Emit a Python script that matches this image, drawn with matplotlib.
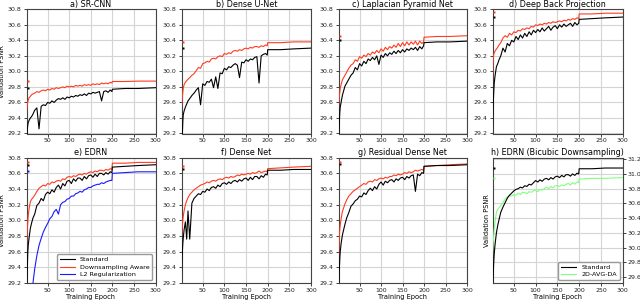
import matplotlib
matplotlib.use("Agg")
import matplotlib.pyplot as plt
import numpy as np

# shared epoch grid at which values were read
epochs = [1, 2, 3, 4, 5, 7, 10, 13, 16, 20,
          25, 30, 35, 40, 45, 50, 55, 60, 65, 70,
          75, 80, 85, 90, 95, 100, 105, 110, 115, 120,
          125, 130, 135, 140, 145, 150, 155, 160, 165, 170,
          175, 180, 185, 190, 195, 199, 200, 230, 260, 300]

a_std = [29.05, 29.18, 29.26, 29.31, 29.34, 29.37, 29.40, 29.42, 29.45, 29.50,
         29.53, 29.26, 29.55, 29.57, 29.56, 29.60, 29.59, 29.62, 29.60, 29.63,
         29.65, 29.64, 29.66, 29.64, 29.67, 29.66, 29.68, 29.67, 29.69, 29.68,
         29.70, 29.69, 29.71, 29.69, 29.72, 29.71, 29.73, 29.72, 29.73, 29.74,
         29.62, 29.74, 29.75, 29.73, 29.76, 29.74, 29.77, 29.78, 29.78, 29.79]
a_da = [29.46, 29.53, 29.58, 29.61, 29.63, 29.66, 29.68, 29.70, 29.71, 29.72,
        29.74, 29.73, 29.75, 29.76, 29.75, 29.77, 29.76, 29.78, 29.77, 29.79,
        29.78, 29.79, 29.80, 29.79, 29.81, 29.80, 29.81, 29.80, 29.82, 29.81,
        29.82, 29.81, 29.83, 29.82, 29.83, 29.82, 29.84, 29.83, 29.84, 29.83,
        29.85, 29.84, 29.85, 29.84, 29.86, 29.85, 29.87, 29.87, 29.875, 29.875]

b_std = [28.90, 29.05, 29.20, 29.35, 29.44, 29.49, 29.54, 29.58, 29.62, 29.65,
         29.69, 29.72, 29.76, 29.79, 29.57, 29.84, 29.82, 29.87, 29.86, 29.90,
         29.79, 29.93, 29.78, 29.98, 29.97, 30.04, 30.02, 30.06, 30.05, 30.08,
         30.10, 30.08, 29.92, 30.12, 30.11, 30.15, 30.13, 30.16, 30.15, 30.18,
         30.19, 29.85, 30.20, 30.22, 30.23, 30.21, 30.28, 30.28, 30.29, 30.30]
b_da = [29.54, 29.60, 29.67, 29.73, 29.78, 29.83, 29.86, 29.88, 29.90, 29.92,
        29.95, 29.97, 30.01, 30.05, 30.04, 30.10, 30.11, 30.13, 30.12, 30.16,
        30.17, 30.16, 30.19, 30.20, 30.19, 30.23, 30.22, 30.24, 30.23, 30.26,
        30.27, 30.26, 30.28, 30.27, 30.29, 30.30, 30.29, 30.31, 30.30, 30.32,
        30.32, 30.31, 30.33, 30.32, 30.34, 30.33, 30.37, 30.37, 30.38, 30.38]

c_std = [28.95, 29.20, 29.35, 29.47, 29.54, 29.60, 29.69, 29.75, 29.81, 29.85,
         29.90, 29.95, 29.98, 30.05, 30.02, 30.10, 30.07, 30.13, 30.10, 30.16,
         30.14, 30.18, 30.15, 30.20, 30.09, 30.21, 30.18, 30.23, 30.20, 30.24,
         30.22, 30.26, 30.23, 30.27, 30.24, 30.28, 30.25, 30.29, 30.27, 30.30,
         30.28, 30.31, 30.27, 30.32, 30.29, 30.33, 30.37, 30.38, 30.38, 30.39]
c_da = [29.55, 29.62, 29.68, 29.73, 29.78, 29.83, 29.89, 29.92, 29.95, 29.99,
        30.04, 30.08, 30.10, 30.15, 30.13, 30.19, 30.17, 30.21, 30.19, 30.23,
        30.21, 30.25, 30.23, 30.27, 30.24, 30.29, 30.26, 30.31, 30.28, 30.32,
        30.30, 30.34, 30.31, 30.36, 30.32, 30.37, 30.33, 30.38, 30.34, 30.38,
        30.35, 30.39, 30.34, 30.39, 30.36, 30.38, 30.44, 30.45, 30.45, 30.46]

d_std = [29.20, 29.45, 29.63, 29.75, 29.85, 29.95, 30.06, 30.10, 30.15, 30.20,
         30.30, 30.25, 30.36, 30.33, 30.40, 30.38, 30.45, 30.41, 30.47, 30.43,
         30.49, 30.45, 30.51, 30.47, 30.53, 30.50, 30.54, 30.51, 30.56, 30.52,
         30.55, 30.58, 30.53, 30.57, 30.59, 30.55, 30.60, 30.57, 30.61, 30.58,
         30.60, 30.62, 30.58, 30.63, 30.60, 30.62, 30.67, 30.68, 30.69, 30.70]
d_da = [29.89, 30.08, 30.19, 30.22, 30.24, 30.26, 30.29, 30.31, 30.34, 30.37,
        30.43, 30.46, 30.44, 30.49, 30.47, 30.51, 30.50, 30.53, 30.52, 30.55,
        30.54, 30.56, 30.55, 30.58, 30.57, 30.60, 30.59, 30.61, 30.60, 30.62,
        30.61, 30.63, 30.62, 30.64, 30.63, 30.64, 30.65, 30.64, 30.66, 30.65,
        30.67, 30.66, 30.68, 30.67, 30.69, 30.68, 30.74, 30.74, 30.75, 30.75]

e_std = [28.90, 29.20, 29.42, 29.59, 29.68, 29.78, 29.90, 29.97, 30.03, 30.08,
         30.19, 30.22, 30.28, 30.25, 30.33, 30.36, 30.34, 30.39, 30.36, 30.42,
         30.45, 30.40, 30.47, 30.44, 30.50, 30.51, 30.47, 30.53, 30.50, 30.54,
         30.54, 30.51, 30.56, 30.53, 30.57, 30.58, 30.55, 30.59, 30.56, 30.60,
         30.60, 30.58, 30.61, 30.59, 30.62, 30.61, 30.68, 30.69, 30.70, 30.71]
e_da = [29.64, 29.78, 29.89, 29.98, 30.06, 30.15, 30.24, 30.27, 30.29, 30.32,
        30.37, 30.41, 30.43, 30.45, 30.44, 30.47, 30.46, 30.49, 30.48, 30.50,
        30.51, 30.50, 30.53, 30.52, 30.55, 30.56, 30.55, 30.57, 30.56, 30.58,
        30.59, 30.58, 30.60, 30.59, 30.61, 30.62, 30.61, 30.63, 30.62, 30.64,
        30.64, 30.63, 30.65, 30.64, 30.66, 30.65, 30.73, 30.73, 30.74, 30.74]
e_l2 = [28.20, 28.30, 28.40, 28.50, 28.60, 28.80, 28.95, 29.08, 29.20, 29.38,
        29.55, 29.68, 29.77, 29.85, 29.91, 29.96, 30.02, 30.05, 30.11, 30.14,
        30.08, 30.20, 30.23, 30.24, 30.27, 30.28, 30.31, 30.31, 30.34, 30.35,
        30.37, 30.36, 30.39, 30.40, 30.42, 30.42, 30.44, 30.45, 30.46, 30.46,
        30.48, 30.47, 30.49, 30.50, 30.51, 30.51, 30.60, 30.61, 30.62, 30.62]

f_std = [29.31, 29.48, 29.60, 29.70, 29.77, 29.88, 29.98, 29.76, 30.12, 29.76,
         30.22, 30.28, 30.31, 30.34, 30.33, 30.37, 30.36, 30.40, 30.38, 30.42,
         30.43, 30.41, 30.45, 30.43, 30.47, 30.48, 30.46, 30.49, 30.47, 30.50,
         30.51, 30.49, 30.52, 30.50, 30.53, 30.54, 30.51, 30.55, 30.52, 30.56,
         30.56, 30.53, 30.57, 30.55, 30.59, 30.58, 30.64, 30.64, 30.65, 30.65]
f_da = [29.79, 29.87, 29.94, 30.00, 30.05, 30.12, 30.20, 30.25, 30.29, 30.33,
        30.36, 30.39, 30.41, 30.43, 30.45, 30.46, 30.47, 30.49, 30.48, 30.50,
        30.51, 30.50, 30.52, 30.53, 30.52, 30.54, 30.55, 30.54, 30.56, 30.55,
        30.56, 30.58, 30.57, 30.59, 30.58, 30.59, 30.60, 30.59, 30.61, 30.60,
        30.61, 30.63, 30.61, 30.62, 30.63, 30.62, 30.66, 30.67, 30.68, 30.69]

g_std = [28.90, 29.20, 29.38, 29.51, 29.60, 29.70, 29.81, 29.88, 29.95, 30.03,
         30.10, 30.18, 30.21, 30.25, 30.27, 30.31, 30.30, 30.35, 30.33, 30.38,
         30.41, 30.38, 30.43, 30.40, 30.46, 30.49, 30.45, 30.50, 30.48, 30.51,
         30.52, 30.49, 30.53, 30.51, 30.54, 30.55, 30.52, 30.56, 30.54, 30.57,
         30.58, 30.37, 30.59, 30.57, 30.61, 30.60, 30.69, 30.70, 30.70, 30.71]
g_da = [29.30, 29.62, 29.81, 29.88, 29.94, 30.02, 30.11, 30.16, 30.21, 30.26,
        30.31, 30.34, 30.37, 30.39, 30.41, 30.43, 30.45, 30.47, 30.46, 30.49,
        30.50, 30.49, 30.52, 30.51, 30.53, 30.54, 30.53, 30.55, 30.54, 30.56,
        30.56, 30.58, 30.57, 30.59, 30.58, 30.59, 30.61, 30.60, 30.62, 30.61,
        30.62, 30.64, 30.63, 30.64, 30.65, 30.64, 30.69, 30.70, 30.71, 30.72]

h_std = [29.45, 29.55, 29.70, 29.82, 29.92, 30.05, 30.20, 30.30, 30.38, 30.48,
         30.55, 30.61, 30.67, 30.71, 30.74, 30.77, 30.79, 30.80, 30.82, 30.81,
         30.84, 30.83, 30.86, 30.85, 30.88, 30.91, 30.89, 30.92, 30.90, 30.93,
         30.94, 30.92, 30.95, 30.93, 30.96, 30.97, 30.95, 30.98, 30.96, 30.99,
         30.99, 30.97, 31.00, 30.98, 31.01, 31.00, 31.07, 31.07, 31.08, 31.08]
h_avg = [29.88, 30.00, 30.10, 30.18, 30.25, 30.36, 30.48, 30.52, 30.54, 30.57,
         30.61, 30.66, 30.69, 30.71, 30.70, 30.72, 30.71, 30.74, 30.72, 30.75,
         30.75, 30.73, 30.76, 30.75, 30.77, 30.78, 30.76, 30.79, 30.78, 30.80,
         30.82, 30.80, 30.83, 30.81, 30.84, 30.84, 30.83, 30.85, 30.84, 30.86,
         30.87, 30.85, 30.88, 30.86, 30.89, 30.88, 30.93, 30.94, 30.94, 30.95]

# best-value markers (shown at epoch 5)
best_epoch = 5
best = {
    "a": [29.79, 29.88], "b": [30.30, 30.38], "c": [30.40, 30.46], "d": [30.70, 30.76],
    "e": [30.71, 30.75, 30.63], "f": [30.66, 30.69], "g": [30.72, 30.74], "h": [31.08, 30.94],
}

titles = ["a) SR-CNN", "b) Dense U-Net", "c) Laplacian Pyramid Net", "d) Deep Back Projection",
          "e) EDRN", "f) Dense Net", "g) Residual Dense Net", "h) EDRN (Bicubic Downsampling)"]
labels_main = ["Standard", "Downsampling Aware", "L2 Regularization"]
labels_h = ["Standard", "2D-AVG-DA"]

BLACK = "#000000"
RED = "#ff3b22"
BLUE = "#1a1aff"
GREEN = "#80ff80"

series = {
    "a": [(a_std, BLACK), (a_da, RED)],
    "b": [(b_std, BLACK), (b_da, RED)],
    "c": [(c_std, BLACK), (c_da, RED)],
    "d": [(d_std, BLACK), (d_da, RED)],
    "e": [(e_std, BLACK), (e_da, RED), (e_l2, BLUE)],
    "f": [(f_std, BLACK), (f_da, RED)],
    "g": [(g_std, BLACK), (g_da, RED)],
    "h": [(h_std, BLACK), (h_avg, GREEN)],
}

W, H = 640, 301
fig = plt.figure(figsize=(W / 100, H / 100), dpi=100)
lefts = [26.5, 181.5, 338.5, 492.5]
rights = [155.5, 311.0, 467.0, 622.7]
rows = [(9.3, 133.5), (157.7, 283.0)]

keys = "abcdefgh"
for i, k in enumerate(keys):
    r, c = divmod(i, 4)
    top, bot = rows[r]
    ax = fig.add_axes([lefts[c] / W, 1 - bot / H, (rights[c] - lefts[c]) / W, (bot - top) / H])
    handles = []
    for j, (vals, col) in enumerate(series[k]):
        ln, = ax.plot(epochs, vals, color=col, lw=0.8, zorder=3.2 if j == 0 else 3 - j * 0.1)
        handles.append(ln)
        ax.plot([best_epoch], [best[k][j]], 's', ms=1.6, color=col, mec='none', zorder=4)
    ax.set_xlim(1, 300)
    ax.set_xticks([50, 100, 150, 200, 250, 300])
    if k == "h":
        ax.set_ylim(29.52, 31.22)
        ax.set_yticks(np.arange(29.6, 31.21, 0.2))
        ax.yaxis.tick_right()
        ax.yaxis.set_label_position("left")
    else:
        ax.set_ylim(29.2, 30.8)
        ax.set_yticks(np.arange(29.2, 30.81, 0.2))
    ax.yaxis.set_major_formatter(matplotlib.ticker.FormatStrFormatter("%.1f"))
    ax.grid(True, color="#d4d4d4", lw=0.8, zorder=0)
    ax.set_axisbelow(True)
    for s in ax.spines.values():
        s.set_color("#444444")
        s.set_linewidth(0.8)
    ax.tick_params(labelsize=4.5, length=2, width=0.6, pad=1.5, colors="#222222")
    ax.set_title(titles[i], fontsize=5.8, pad=2)
    if k in ("a", "e", "h"):
        ax.set_ylabel("Validation PSNR", fontsize=4.8, labelpad=2)
    if r == 1:
        ax.set_xlabel("Training Epoch", fontsize=4.8, labelpad=1)
    if k == "e":
        ax.legend(handles, labels_main, loc="lower right", fontsize=4.6, handlelength=2.4,
                  borderpad=0.4, labelspacing=0.3, framealpha=1, edgecolor="#999999", fancybox=True)
    if k == "h":
        ax.legend(handles, labels_h, loc="lower right", fontsize=4.6, handlelength=2.4,
                  borderpad=0.4, labelspacing=0.3, framealpha=1, edgecolor="#999999", fancybox=True)

fig.savefig("out.png", dpi=100)
